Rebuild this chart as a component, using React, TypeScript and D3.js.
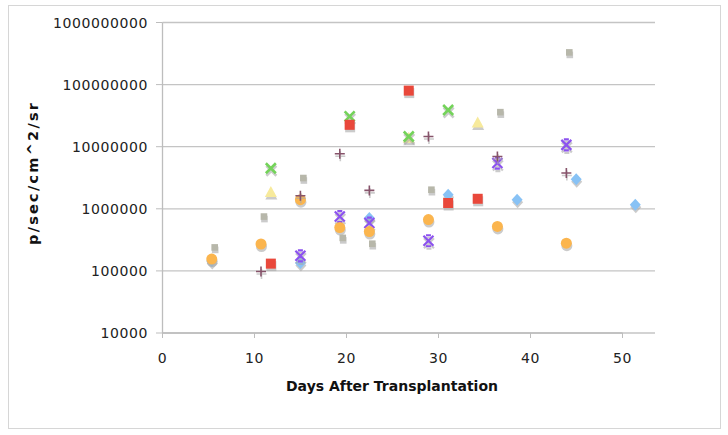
import React from 'react';
import * as d3 from 'd3';

// days after transplantation / photon flux, one array pair per animal
const blueDays = [5, 14, 21, 29, 36, 42, 48];
const blueValues = [145000, 134000, 710000, 1680000, 1400000, 3000000, 1160000];

const yellowDays = [11, 25, 32];
const yellowValues = [1860000, 14000000, 24600000];

const greenDays = [11, 19, 25, 29];
const greenValues = [4500000, 30700000, 14600000, 39000000];

const redDays = [11, 19, 25, 29, 32];
const redValues = [131000, 22500000, 80000000, 1240000, 1450000];

const purpleDays = [14, 18, 21, 27, 34, 41];
const purpleValues = [175000, 750000, 590000, 306000, 5450000, 10700000];

const orangeDays = [5, 10, 14, 18, 21, 27, 34, 41];
const orangeValues = [155000, 271000, 1400000, 500000, 430000, 670000, 520000, 280000];

const plumDays = [10, 14, 18, 21, 27, 34, 41];
const plumValues = [98000, 1620000, 7700000, 1980000, 14600000, 6970000, 3770000];

const grayDays = [5.3, 10.3, 14.3, 18.3, 21.3, 27.3, 34.3, 41.3];
const grayValues = [239000, 750000, 3130000, 340000, 274000, 2030000, 36000000, 330000000];

const xTicks = [0, 10, 20, 30, 40, 50];
const yTicks = [10000, 100000, 1000000, 10000000, 100000000, 1000000000];

const series = [
  { days: blueDays, values: blueValues, shape: 'diamond', color: '#88c2f5' },
  { days: yellowDays, values: yellowValues, shape: 'triangle', color: '#f7ea9c' },
  { days: greenDays, values: greenValues, shape: 'x', color: '#74d35a' },
  { days: redDays, values: redValues, shape: 'square', color: '#e9483b' },
  { days: purpleDays, values: purpleValues, shape: 'star', color: '#8c52ef' },
  { days: orangeDays, values: orangeValues, shape: 'circle', color: '#fbb54e' },
  { days: plumDays, values: plumValues, shape: 'plus', color: '#86536a' },
  { days: grayDays, values: grayValues, shape: 'small', color: '#b7b7aa' },
];

const font = '"DejaVu Sans", Verdana, sans-serif';

function Marker({ shape, color, x, y }) {
  switch (shape) {
    case 'diamond':
      return <path d={`M${x},${y - 6}L${x + 5.5},${y}L${x},${y + 6}L${x - 5.5},${y}Z`} fill={color} />;
    case 'triangle':
      return <path d={`M${x},${y - 6}L${x + 6},${y + 5}L${x - 6},${y + 5}Z`} fill={color} />;
    case 'square':
      return <rect x={x - 5} y={y - 5} width={10} height={10} fill={color} />;
    case 'small':
      return <rect x={x - 3.3} y={y - 3.3} width={6.6} height={6.6} fill={color} />;
    case 'circle':
      return <circle cx={x} cy={y} r={5.5} fill={color} />;
    case 'x':
      return (
        <path d={`M${x - 5},${y - 5}L${x + 5},${y + 5}M${x + 5},${y - 5}L${x - 5},${y + 5}`}
          stroke={color} strokeWidth={2.6} fill="none" />
      );
    case 'star':
      // X with short caps top and bottom
      return (
        <path d={`M${x - 5},${y - 5}L${x + 5},${y + 5}M${x + 5},${y - 5}L${x - 5},${y + 5}M${x - 2.5},${y - 5.5}L${x + 2.5},${y - 5.5}M${x - 2.5},${y + 5.5}L${x + 2.5},${y + 5.5}`}
          stroke={color} strokeWidth={2.2} fill="none" />
      );
    case 'plus':
      return (
        <path d={`M${x - 5},${y}L${x + 5},${y}M${x},${y - 5}L${x},${y + 5}`}
          stroke={color} strokeWidth={1.6} fill="none" />
      );
    default:
      return null;
  }
}

export default function App() {
  const width = 728,
    height = 435;

  // the points span a wider band than the printed axis, as in the original
  const x = d3.scaleLinear().domain([0, 50]).range([162.5, 655]);
  const xAxis = d3.scaleLinear().domain([0, 50]).range([162.5, 622.5]);
  const y = d3.scaleLog().domain([10000, 1000000000]).range([333, 22.5]);

  return (
    <svg width={width} height={height} style={{ position: 'fixed', left: 0, top: 0, background: '#fff' }}>
      <rect x={8.5} y={5.5} width={712} height={423} fill="#fff" stroke="#d6d6d6" />

      {yTicks.map(t => (
        <g key={t}>
          <line x1={162.5} x2={655} y1={y(t)} y2={y(t)} stroke="#c4c4c4" strokeWidth={1.3} />
          <line x1={156} x2={162.5} y1={y(t)} y2={y(t)} stroke="#bdbdbd" />
          <text x={148} y={y(t) + 5} textAnchor="end" fontFamily={font} fontSize={14}
            letterSpacing={0.6} fill="#222">{t}</text>
        </g>
      ))}
      <line x1={162.5} x2={162.5} y1={y(1e9)} y2={y(1e4)} stroke="#bdbdbd" strokeWidth={1.3} />
      <line x1={162.5} x2={622.5} y1={y(1e4)} y2={y(1e4)} stroke="#bdbdbd" strokeWidth={1.3} />

      {xTicks.map(t => (
        <g key={t}>
          <line x1={xAxis(t)} x2={xAxis(t)} y1={333} y2={338} stroke="#bdbdbd" />
          <text x={xAxis(t)} y={363} textAnchor="middle" fontFamily={font} fontSize={14}
            letterSpacing={0.6} fill="#222">{t}</text>
        </g>
      ))}

      <text x={392} y={391} textAnchor="middle" fontFamily={font} fontSize={14}
        fontWeight="bold" fill="#111">Days After Transplantation</text>
      <text transform="translate(38,174) rotate(-90)" textAnchor="middle" fontFamily={font}
        fontSize={14.5} fontWeight="bold" fill="#111" textLength={142} lengthAdjust="spacing">
        p/sec/cm^2/sr
      </text>

      {series.map((s, i) => (
        <g key={i}>
          {s.days.map((d, j) => (
            <g key={j}>
              <g opacity={0.6} transform="translate(0.5,2.5)">
                <Marker shape={s.shape} color="#a9a9a9" x={x(d)} y={y(s.values[j])} />
              </g>
              <Marker shape={s.shape} color={s.color} x={x(d)} y={y(s.values[j])} />
            </g>
          ))}
        </g>
      ))}
    </svg>
  );
}
